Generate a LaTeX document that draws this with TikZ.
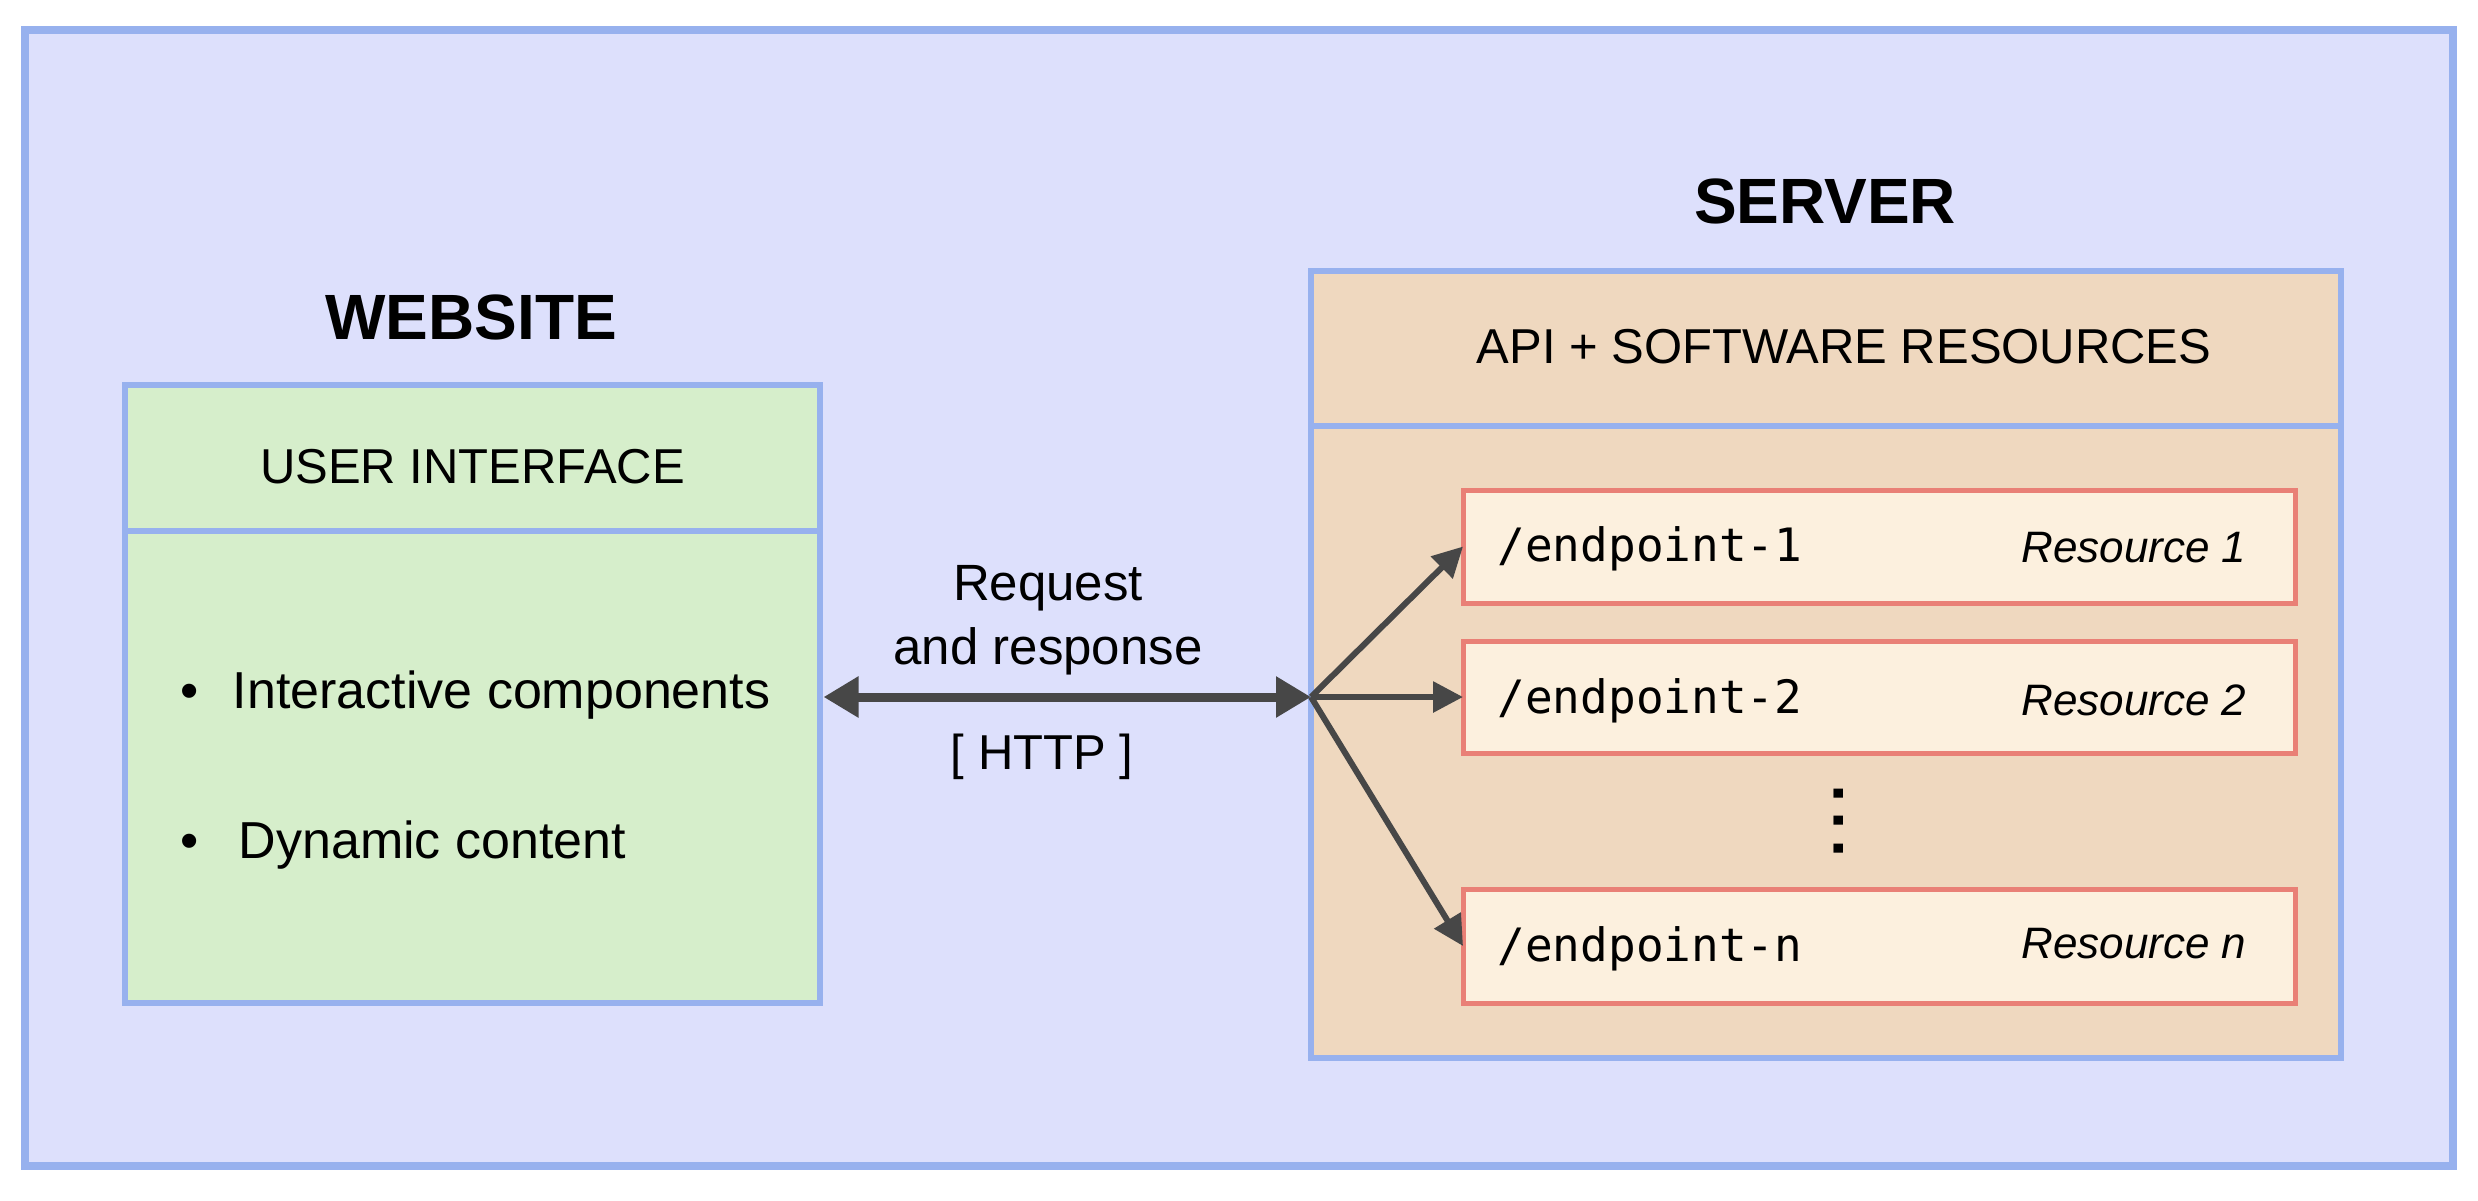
\documentclass[tikz,border=0pt]{standalone}
\usepackage{fontspec}
\setmainfont{Liberation Sans}
\newfontfamily\monof{DejaVu Sans Mono}
\usetikzlibrary{arrows.meta}
\definecolor{outerfill}{HTML}{DDE0FC}
\definecolor{blueline}{HTML}{97B1EE}
\definecolor{greenfill}{HTML}{D6EECB}
\definecolor{srvfill}{HTML}{EFD8BF}
\definecolor{epfill}{HTML}{FCF0DE}
\definecolor{epline}{HTML}{E98076}
\definecolor{arrowc}{HTML}{474747}
\begin{document}
\begin{tikzpicture}[x=1pt,y=-1pt,
  box/.style={rectangle, anchor=north west, inner sep=0pt, outer sep=0pt},
  outerbox/.style={box, draw=blueline, fill=outerfill, line width=8pt},
  webbox/.style={box, draw=blueline, fill=greenfill, line width=6.5pt},
  srvbox/.style={box, draw=blueline, fill=srvfill, line width=6.5pt},
  epbox/.style={box, draw=epline, fill=epfill, line width=5pt},
  title/.style={anchor=base, font=\bfseries\fontsize{64}{70}\selectfont},
  lbl/.style={anchor=base, font=\fontsize{49}{56}\selectfont},
  body/.style={anchor=base west, font=\fontsize{52}{58}\selectfont},
  mono/.style={anchor=base west, font=\monof\fontsize{46}{52}\selectfont},
  res/.style={anchor=base east, font=\itshape\fontsize{44}{50}\selectfont},
  mainarrow/.style={draw=arrowc, line width=9pt, {Triangle[length=35pt,width=39pt]}-{Triangle[length=35pt,width=39pt]}},
  brarrow/.style={draw=arrowc, line width=6pt, -{Triangle[length=30pt,width=30pt]}}
]
\useasboundingbox (0,0) rectangle (2478,1200);
\node[outerbox, minimum width=2428pt, minimum height=1136pt] (outer) at (24.5,30) {};

% website
\node[title] (webtitle) at (471,339) {WEBSITE};
\node[webbox, minimum width=695pt, minimum height=146pt] (uihead) at (125,385) {};
\node[webbox, minimum width=695pt, minimum height=472pt] (uibody) at (125,531) {};
\node[lbl] (uitext) at (472.5,483) {USER INTERFACE};
\node[body] (b1) at (177,708) {•\hspace{34pt}Interactive components};
\node[body] (b2) at (177,858) {•\hspace{40pt}Dynamic content};

% server
\node[title] (srvtitle) at (1825,223) {SERVER};
\node[srvbox, minimum width=1030pt, minimum height=155pt] (srvhead) at (1311,271) {};
\node[srvbox, minimum width=1030pt, minimum height=632pt] (srvbody) at (1311,426) {};
\node[lbl] (apitext) at (1844,363) {API + SOFTWARE RESOURCES};

\node[epbox, minimum width=832pt, minimum height=113pt] (ep1) at (1463,490) {};
\node[epbox, minimum width=832pt, minimum height=112pt] (ep2) at (1463,641) {};
\node[epbox, minimum width=832pt, minimum height=114pt] (epn) at (1463,889) {};
\node[mono] (e1t) at (1494,561) {/endpoint-1};
\node[mono] (e2t) at (1494,713) {/endpoint-2};
\node[mono] (ent) at (1494,961) {/endpoint-n};
\node[res] (r1) at (2250,562) {Resource 1};
\node[res] (r2) at (2250,715) {Resource 2};
\node[res] (rn) at (2250,958) {Resource n};
\node[rotate=90, inner sep=0pt, font=\bfseries\fontsize{64}{70}\selectfont] (dots) at (1839,821) {.\hspace{10pt}.\hspace{10pt}.};

% connectors
\coordinate (hub) at (1311,697);
\coordinate (uiedge) at (823.5,697);
\draw[mainarrow] (uiedge) -- (hub);
\draw[brarrow] (hub) -- (ep1.west);
\draw[brarrow] (hub) -- (ep2.west);
\draw[brarrow] (hub) -- (epn.west);

\node[lbl, font=\fontsize{51}{58}\selectfont] (req1) at (1048,600) {Request};
\node[lbl, font=\fontsize{51}{58}\selectfont] (req2) at (1048,664) {and response};
\node[lbl, font=\fontsize{49}{56}\selectfont] (http) at (1042,769) {[ HTTP ]};
\end{tikzpicture}
\end{document}
